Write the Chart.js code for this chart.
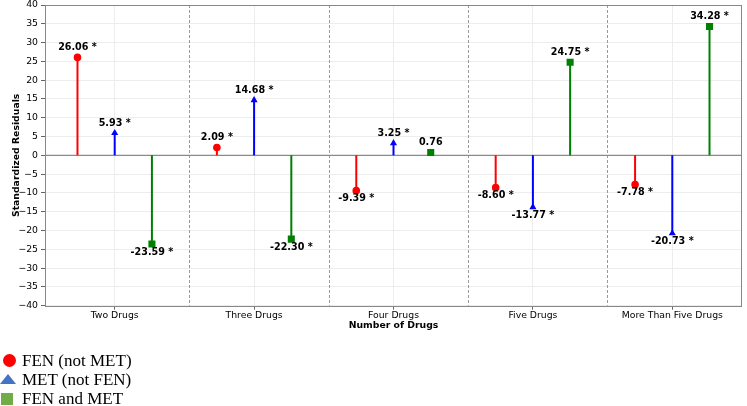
<!DOCTYPE html>
<html><head><meta charset="utf-8">
<script src="https://cdn.jsdelivr.net/npm/chart.js@4/dist/chart.umd.min.js"></script>
<style>
html,body{margin:0;padding:0;background:#fff;}
#wrap{position:relative;width:747px;height:406px;overflow:hidden;}
canvas{position:absolute;left:0;top:0;}
#legend{position:absolute;left:0;top:350.5px;font-family:"Liberation Serif","Times New Roman",serif;font-size:17px;color:#000;}
.row{position:relative;height:19px;line-height:19px;padding-left:22px;white-space:nowrap;}
.mk{position:absolute;}
</style></head>
<body><div id="wrap"><canvas id="c" width="747" height="406"></canvas>
<div id="legend"></div></div>
<script>
const categories = ['Two Drugs', 'Three Drugs', 'Four Drugs', 'Five Drugs', 'More Than Five Drugs'];
const seriesNames = ['FEN (not MET)', 'MET (not FEN)', 'FEN and MET'];
const fenNotMet = [26.06, 2.09, -9.39, -8.60, -7.78];
const metNotFen = [5.93, 14.68, 3.25, -13.77, -20.73];
const fenAndMet = [-23.59, -22.30, 0.76, 24.75, 34.28];
const fenSig = [true, true, true, true, true];
const metSig = [true, true, true, true, true];
const bothSig = [true, true, false, true, true];
const yTickValues = [-40, -35, -30, -25, -20, -15, -10, -5, 0, 5, 10, 15, 20, 25, 30, 35, 40];

const seriesValues = [fenNotMet, metNotFen, fenAndMet];
const seriesSig = [fenSig, metSig, bothSig];
const colors = ['#ff0000', '#0000ff', '#008000'];
const styles = ['circle', 'triangle', 'rect'];
const radii = [3.8, 4.1, 5];
const offsets = [-0.267, 0, 0.267];
const SEP = 0.535;

const datasets = [];
seriesValues.forEach((vals, s) => {
  const stem = [];
  vals.forEach((v, i) => {
    stem.push({x: i + offsets[s], y: 0});
    stem.push({x: i + offsets[s], y: v});
    stem.push({x: i + offsets[s], y: null});
  });
  datasets.push({
    label: seriesNames[s] + ' stem', data: stem, showLine: true, spanGaps: false,
    borderColor: colors[s], borderWidth: 2, pointRadius: 0, order: 2, borderCapStyle: 'butt'
  });
});
seriesValues.forEach((vals, s) => {
  datasets.push({
    label: seriesNames[s], data: vals.map((v, i) => ({x: i + offsets[s], y: v})),
    showLine: false, pointStyle: styles[s], pointRadius: radii[s], pointBorderWidth: 0,
    pointBackgroundColor: colors[s], borderColor: colors[s], order: 1,
    isMarker: true, seriesIndex: s
  });
});

const frame = {
  id: 'frame',
  beforeDatasetsDraw(chart) {
    const {ctx, chartArea: a, scales: {x, y}} = chart;
    ctx.save();
    ctx.strokeStyle = '#999';
    ctx.lineWidth = 1;
    ctx.setLineDash([3, 2]);
    for (let i = 0; i < categories.length - 1; i++) {
      const px = Math.round(x.getPixelForValue(i + SEP)) + 0.5;
      ctx.beginPath(); ctx.moveTo(px, a.top); ctx.lineTo(px, a.bottom); ctx.stroke();
    }
    ctx.setLineDash([]);
    ctx.strokeStyle = '#8a8a8a';
    ctx.lineWidth = 1.3;
    const y0 = y.getPixelForValue(0);
    ctx.beginPath(); ctx.moveTo(a.left, y0); ctx.lineTo(a.right, y0); ctx.stroke();
    ctx.restore();
  },
  afterDatasetsDraw(chart) {
    const {ctx, chartArea: a} = chart;
    ctx.save();
    ctx.strokeStyle = '#888';
    ctx.lineWidth = 1;
    ctx.strokeRect(Math.round(a.left) + 0.5, Math.round(a.top) + 0.5, Math.round(a.right - a.left) - 1, Math.round(a.bottom - a.top));
    ctx.font = 'bold 9.6px "DejaVu Sans"';
    ctx.fillStyle = '#000';
    ctx.textAlign = 'center';
    ctx.textBaseline = 'middle';
    chart.data.datasets.forEach((ds, di) => {
      if (!ds.isMarker) return;
      const meta = chart.getDatasetMeta(di);
      const vals = seriesValues[ds.seriesIndex];
      const sig = seriesSig[ds.seriesIndex];
      meta.data.forEach((el, i) => {
        const v = vals[i];
        const txt = v.toFixed(2) + (sig[i] ? ' *' : '');
        const ty = v >= 0 ? el.y - 9.5 : el.y + 8;
        ctx.fillText(txt, el.x, ty);
      });
    });
    ctx.restore();
  }
};

const tickFont = {family: 'DejaVu Sans', size: 9.3};
const titleFont = {family: 'DejaVu Sans', size: 9.3, weight: 'bold'};

new Chart(document.getElementById('c'), {
  type: 'line',
  data: {datasets},
  options: {
    responsive: false, animation: false,
    layout: {padding: {left: 0, right: 1, top: 4, bottom: 75}},
    plugins: {legend: {display: false}, tooltip: {enabled: false}},
    scales: {
      x: {
        type: 'linear', min: -0.5, max: 4.5,
        afterBuildTicks: s => { s.ticks = categories.map((c, i) => ({value: i})); },
        ticks: {callback: v => categories[v], font: tickFont, color: '#000', padding: 0, maxRotation: 0, autoSkip: false},
        grid: {color: '#ededed', tickColor: '#666', tickLength: 4},
        border: {display: false},
        title: {display: true, text: 'Number of Drugs', font: titleFont, color: '#000', padding: {top: -1, bottom: 0}}
      },
      y: {
        min: -40, max: 40,
        afterBuildTicks: s => { s.ticks = yTickValues.map(v => ({value: v})); },
        afterFit: s => { s.width = 45; s.paddingTop = 0; s.paddingBottom = 0; },
        ticks: {callback: v => (v < 0 ? '\u2212' + Math.abs(v) : String(v)), font: tickFont, color: '#000', padding: 3},
        grid: {color: '#ededed', tickColor: '#666', tickLength: 4},
        border: {display: false},
        title: {display: true, text: 'Standardized Residuals', font: titleFont, color: '#000', padding: {top: 11, bottom: 0}}
      }
    }
  },
  plugins: [frame]
});

const legend = document.getElementById('legend');
const markerHtml = [
  '<div class="mk" style="left:2.5px;top:3px;width:13px;height:13px;border-radius:50%;background:#ff0000"></div>',
  '<div class="mk" style="left:0;top:4.5px;width:0;height:0;border-left:8.5px solid transparent;border-right:8.5px solid transparent;border-bottom:10px solid #4472c4"></div>',
  '<div class="mk" style="left:1px;top:4px;width:12px;height:12px;background:#70ad47"></div>'
];
seriesNames.forEach((n, s) => {
  const row = document.createElement('div');
  row.className = 'row';
  row.innerHTML = markerHtml[s];
  row.appendChild(document.createTextNode(n));
  legend.appendChild(row);
});
</script>
</body></html>
